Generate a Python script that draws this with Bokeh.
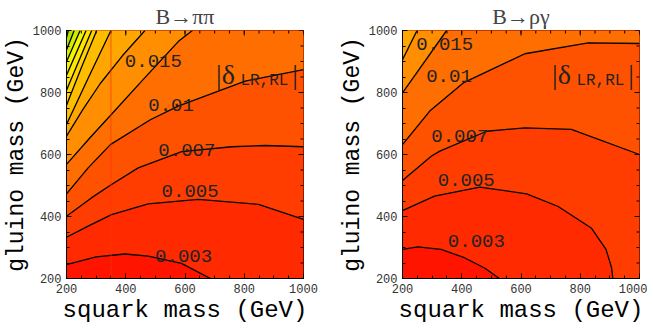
from bokeh.plotting import figure
from bokeh.models import Range1d, FixedTicker, Label, Span
from bokeh.layouts import row
from bokeh.embed import file_html
from bokeh.resources import INLINE

# ---------------- data ----------------
X_MIN, X_MAX, Y_MIN, Y_MAX = 200, 1000, 200, 1000
major_ticks = [200, 400, 600, 800, 1000]
minor_ticks = list(range(200, 1001, 50))

levels = [0.003, 0.005, 0.007, 0.01, 0.015, 0.02, 0.025, 0.03, 0.035,
          0.04, 0.045, 0.05, 0.055, 0.06]
band_colors = ["#ff1400", "#ff2a00", "#ff3d00", "#ff5200", "#ff6e00",
               "#ff8f00", "#ffa600", "#ffbd00", "#ffd200", "#ffe600",
               "#f2f500", "#d2ee00", "#aee300", "#8ad600", "#6cc800"]

# B -> pi pi  (squark mass, gluino mass) along each contour
pp_0003_x = [200, 300, 397, 476, 588, 686]
pp_0003_y = [245, 270, 279, 272, 249, 200]
pp_0005_x = [200, 273, 352, 476, 645, 848, 1000]
pp_0005_y = [333, 369, 406, 441, 455, 439, 391]
pp_0007_x = [200, 284, 352, 442, 589, 758, 870, 1000]
pp_0007_y = [401, 460, 503, 557, 609, 625, 629, 625]
pp_001_x = [200, 273, 348, 483, 577, 803, 1000]
pp_001_y = [473, 557, 632, 712, 756, 837, 874]
pp_0015_x = [200, 280, 352, 460, 578, 625]
pp_0015_y = [568, 655, 730, 843, 965, 1000]
pp_002_x = [200, 255, 314, 390, 465]
pp_002_y = [659, 745, 829, 920, 1000]
pp_0025_x = [200, 275, 350]
pp_0025_y = [697, 850, 1000]
pp_003_x = [200, 250, 302]
pp_003_y = [759, 880, 1000]
pp_0035_x = [200, 285]
pp_0035_y = [807, 1000]
pp_004_x = [200, 266]
pp_004_y = [856, 1000]
pp_0045_x = [200, 246]
pp_0045_y = [899, 1000]
pp_005_x = [200, 226]
pp_005_y = [937, 1000]
pp_0055_x = [200, 206]
pp_0055_y = [977, 1000]

# B -> rho gamma
rg_0003_x = [200, 252, 330, 409, 477, 527]
rg_0003_y = [294, 302, 294, 267, 234, 200]
rg_0005_x = [200, 308, 461, 619, 724, 837, 887, 906, 910]
rg_0005_y = [419, 466, 495, 473, 433, 363, 294, 234, 200]
rg_0007_x = [200, 298, 326, 484, 613, 770, 1000]
rg_0007_y = [516, 595, 611, 675, 686, 681, 600]
rg_001_x = [200, 292, 405, 613, 827, 1000]
rg_001_y = [632, 740, 831, 925, 960, 958]
rg_0015_x = [200, 349]
rg_0015_y = [799, 1000]
rg_002_x = [200, 249]
rg_002_y = [906, 1000]

pp_label_text = ["0.015", "0.01", "0.007", "0.005", "0.003"]
pp_label_x = [397, 476, 510, 521, 499]
pp_label_y = [901, 761, 616, 482, 272]
rg_label_text = ["0.015", "0.01", "0.007", "0.005", "0.003"]
rg_label_x = [246, 280, 297, 319, 353]
rg_label_y = [955, 853, 661, 519, 320]

seam_x = [350]

pp_lines = [(pp_0003_x, pp_0003_y), (pp_0005_x, pp_0005_y), (pp_0007_x, pp_0007_y),
            (pp_001_x, pp_001_y), (pp_0015_x, pp_0015_y), (pp_002_x, pp_002_y),
            (pp_0025_x, pp_0025_y), (pp_003_x, pp_003_y), (pp_0035_x, pp_0035_y),
            (pp_004_x, pp_004_y), (pp_0045_x, pp_0045_y), (pp_005_x, pp_005_y),
            (pp_0055_x, pp_0055_y)]
rg_lines = [(rg_0003_x, rg_0003_y), (rg_0005_x, rg_0005_y), (rg_0007_x, rg_0007_y),
            (rg_001_x, rg_001_y), (rg_0015_x, rg_0015_y), (rg_002_x, rg_002_y)]

MONO = "Liberation Mono"
SERIF = "Liberation Serif"
FRAME_W, FRAME_H = 237, 248
DX = (X_MAX - X_MIN) / FRAME_W   # data units per pixel
DY = (Y_MAX - Y_MIN) / FRAME_H


def high_side(xs, ys):
    px, py = list(xs), list(ys)
    xe, ye = px[-1], py[-1]
    if ye <= Y_MIN:
        corners = [(X_MAX, Y_MIN), (X_MAX, Y_MAX), (X_MIN, Y_MAX)]
    elif xe >= X_MAX:
        corners = [(X_MAX, Y_MAX), (X_MIN, Y_MAX)]
    else:
        corners = [(X_MIN, Y_MAX)]
    for cx, cy in corners:
        px.append(cx)
        py.append(cy)
    return px, py


def style_axis(ax):
    ax.ticker = FixedTicker(ticks=major_ticks, minor_ticks=minor_ticks)
    ax.major_tick_in = 5
    ax.major_tick_out = 0
    ax.minor_tick_in = 3
    ax.minor_tick_out = 0
    ax.axis_line_color = "black"
    ax.major_tick_line_color = "black"
    ax.minor_tick_line_color = "black"
    ax.major_label_text_font = MONO
    ax.major_label_text_font_size = "12px"
    ax.major_label_text_color = "#333333"
    ax.axis_label_text_font = MONO
    ax.axis_label_text_font_style = "normal"
    ax.axis_label_text_color = "black"


def panel(title, lines, lab_t, lab_x, lab_y, mbl, mbr, seams):
    p = figure(frame_width=FRAME_W, frame_height=FRAME_H,
               x_range=Range1d(X_MIN, X_MAX), y_range=Range1d(Y_MIN, Y_MAX),
               output_backend="svg", toolbar_location=None,
               min_border_left=mbl, min_border_right=mbr,
               min_border_top=18, min_border_bottom=40,
               title=title)
    p.title.text_font = SERIF
    p.title.text_font_size = "22px"
    p.title.text_font_style = "normal"
    p.title.align = "center"
    p.title.standoff = 3
    p.title.offset = 0
    p.grid.visible = False
    p.outline_line_color = "black"
    p.background_fill_color = band_colors[0]
    p.border_fill_color = "white"

    # filled bands
    p.patch([X_MIN, X_MAX, X_MAX, X_MIN], [Y_MIN, Y_MIN, Y_MAX, Y_MAX],
            fill_color=band_colors[0], line_color=None)
    for k, (xs, ys) in enumerate(lines):
        hx, hy = high_side(xs, ys)
        p.patch(hx, hy, fill_color=band_colors[k + 1], line_color=None)
    for s in seams:
        p.add_layout(Span(location=s, dimension="height", line_color="#ff3300",
                          line_alpha=0.7, line_width=1))
    for xs, ys in lines:
        p.line(xs, ys, line_color="black", line_width=1.3, line_join="round")

    # ticks on the top and right frame edges
    for ticks, ln in ((major_ticks, 5), (minor_ticks, 3)):
        p.segment(x0=ticks, y0=[Y_MAX] * len(ticks), x1=ticks,
                  y1=[Y_MAX - ln * DY] * len(ticks), line_color="black", line_width=1)
        p.segment(x0=[X_MAX] * len(ticks), y0=ticks, x1=[X_MAX - ln * DX] * len(ticks),
                  y1=ticks, line_color="black", line_width=1)

    for t, x, y in zip(lab_t, lab_x, lab_y):
        p.add_layout(Label(x=x, y=y, text=t, text_font=MONO, text_font_size="19px",
                           text_color="#222222", text_baseline="middle",
                           text_align="left"))
    # |delta_LR,RL|
    p.add_layout(Label(x=705, y=857, text="|\u03b4", text_font=SERIF,
                       text_font_size="28px", text_color="#222222",
                       text_baseline="alphabetic"))
    p.add_layout(Label(x=787, y=836, text="LR,RL", text_font=MONO,
                       text_font_size="16px", text_color="#222222",
                       text_baseline="alphabetic"))
    p.add_layout(Label(x=962, y=857, text="|", text_font=SERIF,
                       text_font_size="28px", text_color="#222222",
                       text_baseline="alphabetic"))

    style_axis(p.xaxis[0])
    style_axis(p.yaxis[0])
    p.xaxis[0].axis_label = "squark mass (GeV)"
    p.yaxis[0].axis_label = "gluino mass (GeV)"
    p.xaxis[0].axis_label_text_font_size = "24px"
    p.yaxis[0].axis_label_text_font_size = "23px"
    p.xaxis[0].major_label_standoff = 5
    p.xaxis[0].axis_label_standoff = 1
    p.yaxis[0].major_label_standoff = 5
    p.yaxis[0].axis_label_standoff = 0
    return p


p1 = panel("B\u2192\u03c0\u03c0", pp_lines, pp_label_text, pp_label_x, pp_label_y,
           62, 21, seam_x)
p2 = panel("B\u2192\u03c1\u03b3", rg_lines, rg_label_text, rg_label_x, rg_label_y,
           78, 8, [])

layout = row(p1, p2)
open("out.html", "w").write(file_html(layout, INLINE))
